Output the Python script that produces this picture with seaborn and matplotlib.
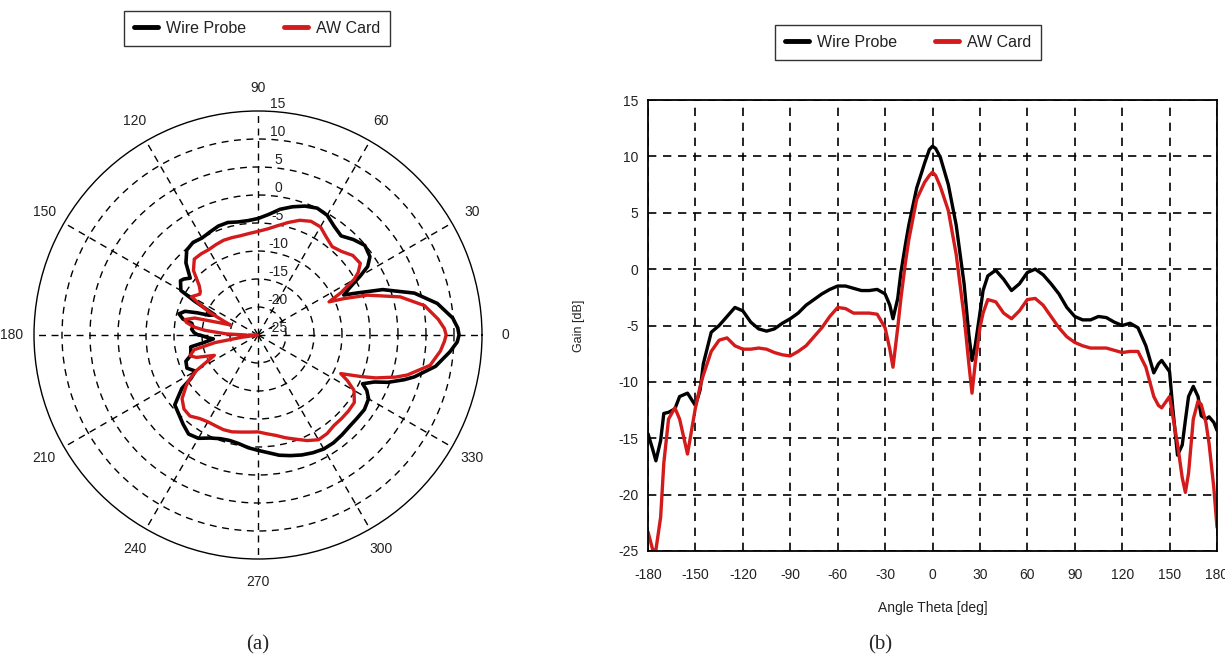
import numpy as np
import matplotlib
matplotlib.use("Agg")
import matplotlib.pyplot as plt
import seaborn as sns
from matplotlib.lines import Line2D

# ---------------- data ----------------
angles_deg = [-180, -177, -175, -172, -170, -167, -163, -160, -155, -150, -147, -145,
              -140, -135, -130, -125, -120, -115, -110, -105, -100, -95, -90, -85,
              -80, -75, -70, -65, -60, -55, -50, -45, -40, -35, -30, -27, -25, -22,
              -20, -17, -15, -10, -5, -2, 0, 2, 5, 10, 15, 20, 23, 25, 27, 30, 32,
              35, 40, 45, 50, 55, 60, 65, 70, 75, 80, 85, 90, 95, 100, 105, 110, 115,
              120, 125, 130, 135, 140, 143, 145, 150, 152, 155, 158, 160, 162, 165,
              168, 170, 173, 175, 178, 180]

wire_probe = [-14.6, -16.0, -17.0, -15.2, -12.8, -12.7, -12.4, -11.3, -11.0, -12.1, -10.7, -8.4,
              -5.6, -5.0, -4.2, -3.4, -3.7, -4.7, -5.3, -5.5, -5.3, -4.8, -4.4, -3.9,
              -3.2, -2.7, -2.2, -1.8, -1.5, -1.5, -1.7, -1.9, -1.9, -1.8, -2.2, -3.2, -4.4, -2.6,
              -0.3, 2.3, 3.9, 7.2, 9.4, 10.6, 10.9, 10.7, 9.9, 7.5, 3.9, -1.3, -5.8, -8.1, -6.8, -3.9, -1.9,
              -0.6, -0.1, -0.9, -1.9, -1.3, -0.3, 0.0, -0.5, -1.3, -2.2, -3.4, -4.2, -4.5, -4.5, -4.2, -4.3, -4.7,
              -5.0, -4.8, -5.2, -6.8, -9.2, -8.4, -8.1, -9.1, -12.3, -16.5, -15.6, -13.4, -11.3, -10.4,
              -11.3, -13.0, -13.3, -13.1, -13.6, -14.3]

aw_card = [-23.3, -24.9, -24.9, -22.0, -17.2, -13.3, -12.3, -13.3, -16.4, -12.3, -10.4, -9.4,
           -7.3, -6.3, -6.1, -6.8, -7.1, -7.1, -7.0, -7.1, -7.4, -7.6, -7.7, -7.3,
           -6.8, -6.0, -5.2, -4.2, -3.4, -3.5, -3.9, -3.9, -3.9, -4.0, -5.2, -7.1, -8.7, -5.2,
           -2.6, 0.7, 2.6, 6.2, 7.7, 8.3, 8.6, 8.3, 7.3, 5.2, 1.3, -4.2, -8.4, -11.0, -8.4, -5.2, -3.9,
           -2.7, -2.9, -3.9, -4.4, -3.7, -2.7, -2.6, -3.2, -4.2, -5.2, -6.0, -6.5, -6.8, -7.0, -7.0, -7.0, -7.2,
           -7.4, -7.3, -7.3, -8.7, -11.3, -12.1, -12.3, -11.3, -13.0, -15.5, -18.5, -19.8, -18.1, -13.3,
           -11.7, -12.0, -13.6, -15.5, -19.4, -22.9]

series_names = ["Wire Probe", "AW Card"]
series_colors = ["#000000", "#d41a1a"]

x_ticks = list(range(-180, 181, 30))
y_ticks = list(range(-25, 16, 5))
polar_theta_ticks = list(range(0, 360, 30))
polar_r_ticks = [15, 10, 5, 0, -5, -10, -15, -20, -25]
polar_r_labels = ["15", "10", "5", "0", "-5", "-10", "-15", "-20", "-25"]

# ---------------- style ----------------
sns.set_style("white")
plt.rcParams["font.family"] = ["Liberation Sans", "DejaVu Sans"]
plt.rcParams["axes.unicode_minus"] = False

W, H = 1225, 660
fig = plt.figure(figsize=(W / 100, H / 100), dpi=100)
fig.patch.set_facecolor("white")

dash = (0, (5, 4))
txt_color = "#222222"

# ---------------- (a) polar ----------------
cx, cy, R = 258, 335, 224
axp = fig.add_axes([(cx - R) / W, 1 - (cy + R) / H, 2 * R / W, 2 * R / H],
                   projection="polar")
theta = np.deg2rad(np.array(angles_deg, dtype=float))
sns.lineplot(x=theta, y=wire_probe, ax=axp, color=series_colors[0], lw=2.6,
             sort=False, estimator=None)
sns.lineplot(x=theta, y=aw_card, ax=axp, color=series_colors[1], lw=2.4,
             sort=False, estimator=None)
axp.set_ylim(-25, 15)
axp.set_yticks([t for t in polar_r_ticks if -25 < t < 15])
axp.set_yticklabels([])
axp.set_thetagrids(polar_theta_ticks, [str(t) for t in polar_theta_ticks])
axp.grid(True, linestyle=dash, color="black", lw=1.0)
axp.spines["polar"].set_linewidth(1.0)
axp.spines["polar"].set_color("black")
axp.tick_params(axis="x", labelsize=10, colors=txt_color, pad=6)
axp.set_xlabel("")
axp.set_ylabel("")
for r, lab in zip(polar_r_ticks, polar_r_labels):
    axp.annotate(lab, xy=(np.pi / 2, r), xytext=(20, 7), textcoords="offset pixels",
                 ha="center", va="center", fontsize=10, color=txt_color)

# ---------------- (b) cartesian ----------------
L, Rr, T, B = 648, 1217, 100, 551
axc = fig.add_axes([L / W, 1 - B / H, (Rr - L) / W, (B - T) / H])
sns.lineplot(x=angles_deg, y=wire_probe, ax=axc, color=series_colors[0], lw=2.4,
             sort=False, estimator=None)
sns.lineplot(x=angles_deg, y=aw_card, ax=axc, color=series_colors[1], lw=2.4,
             sort=False, estimator=None)
axc.set_xlim(-180, 180)
axc.set_ylim(-25, 15)
axc.set_xticks(x_ticks)
axc.set_yticks(y_ticks)
axc.grid(True, linestyle=dash, color="black", lw=1.2)
for s in axc.spines.values():
    s.set_color("black")
    s.set_linewidth(1.3)
axc.tick_params(axis="both", length=0, labelsize=10, colors=txt_color)
axc.tick_params(axis="x", pad=12)
axc.tick_params(axis="y", pad=7)
axc.set_xlabel("Angle Theta [deg]", fontsize=10, color=txt_color, labelpad=14)
axc.set_ylabel("Gain [dB]", fontsize=9, color=txt_color, labelpad=24)

# ---------------- legends ----------------
handles = [Line2D([0], [0], color=c, lw=3.5) for c in series_colors]
for (lx, ly) in [(257 / W, 1 - 28.5 / H), (908 / W, 1 - 42.5 / H)]:
    leg = fig.legend(handles, series_names, loc="center", bbox_to_anchor=(lx, ly),
                     ncol=2, fontsize=11.5, frameon=True, fancybox=False,
                     handlelength=1.5, handletextpad=0.5, columnspacing=2.4,
                     borderpad=0.6, edgecolor="black")
    leg.get_frame().set_linewidth(1.0)
    for t in leg.get_texts():
        t.set_color(txt_color)

# ---------------- captions ----------------
fig.text(258 / W, 1 - 645 / H, "(a)", ha="center", va="center", fontsize=15,
         family=["Liberation Serif", "DejaVu Serif"])
fig.text(880 / W, 1 - 645 / H, "(b)", ha="center", va="center", fontsize=15,
         family=["Liberation Serif", "DejaVu Serif"])

fig.savefig("out.png", dpi=100, facecolor="white")
